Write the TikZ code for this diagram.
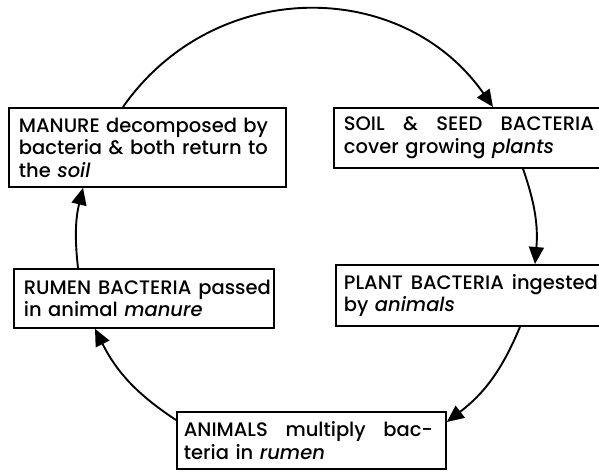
\documentclass[tikz,border=0pt]{standalone}
\usepackage{fontspec}
\setmainfont{Poppins}[UprightFont={* Medium},ItalicFont={* Medium Italic}]
\usetikzlibrary{arrows.meta,calc}
\newcommand{\jline}[2]{{\spaceskip=0pt\xspaceskip=0pt\makebox[#1][s]{#2}}}
\begin{document}
\begin{tikzpicture}[x=1pt,y=1pt,
  box/.style={draw, line width=1.8pt, anchor=north west, inner xsep=10pt, inner ysep=0pt,
    align=left, font=\fontsize{19.5}{22.5}\selectfont},
  cyc/.style={line width=1.9pt, -{Triangle[length=17pt,width=15pt]}}]
\useasboundingbox (0,0) rectangle (599,472);
\node[box, text width=257, minimum height=79] (m) at (8,365)
  {\jline{249pt}{MANURE decomposed by}\\\jline{249pt}{bacteria \& both return to}\\the \textit{soil}};
\node[box, text width=252, minimum height=60] (s) at (333,365)
  {\jline{250pt}{SOIL \& SEED BACTERIA}\\cover growing \textit{plants}};
\node[box, text width=240, minimum height=59] (r) at (13,204)
  {\jline{247pt}{RUMEN BACTERIA passed}\\in animal \textit{manure}};
\node[box, text width=256, minimum height=61, inner xsep=8pt] (p) at (335,208)
  {\jline{254pt}{PLANT BACTERIA ingested}\\by \textit{animals}};
\node[box, text width=255, minimum height=57, inner xsep=7pt] (a) at (176,61)
  {\jline{249pt}{ANIMALS multiply bac-}\\teria in \textit{rumen}};
\draw[cyc] ($(m.north west)+(115,0)$) to[bend left=55, looseness=1.1] ($(s.north west)+(160,0)$);
\draw[cyc] ($(s.south west)+(190,0)$) to[bend left=12] ($(p.north west)+(200,0)$);
\draw[cyc] ($(p.south west)+(185,0)$) to[bend left=15] ($(a.north east)+(0,-11)$);
\draw[cyc] ($(a.north west)+(0,-9)$) to[bend left=15] ($(r.south west)+(82,0)$);
\draw[cyc] ($(r.north west)+(65,0)$) to[bend left=10] ($(m.south west)+(75,0)$);
\end{tikzpicture}
\end{document}
